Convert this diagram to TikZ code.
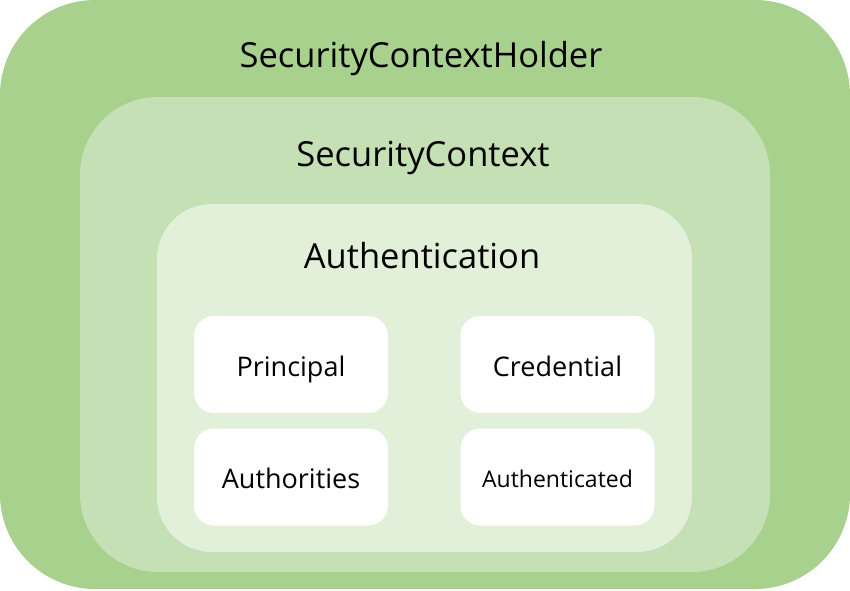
\documentclass[tikz,border=0pt]{standalone}
\usepackage{fontspec}
\setmainfont{Open Sans}
\usepackage{tikz}
\definecolor{holdergreen}{HTML}{A9D18E}
\definecolor{contextgreen}{HTML}{C5E0B4}
\definecolor{authgreen}{HTML}{E2F0D9}
\usetikzlibrary{positioning}
\newcommand{\fsz}[1]{\fontsize{#1}{#1}\selectfont}

\begin{document}
\begin{tikzpicture}[x=1pt, y=-1pt,
			layer/.style={rounded corners=#1, inner sep=0pt, outer sep=0pt},
			field/.style={fill=white, rounded corners=20pt, minimum width=194pt, minimum height=97pt, inner sep=0pt,
				text height=23pt, text depth=0pt, font=\fsz{27}}]
			\useasboundingbox (0,0) rectangle (850,590);
			% Ebenen zeichnen
			\fill[holdergreen, layer=95pt] (0,0) rectangle (850,589);
			\fill[contextgreen, layer=78pt] (80,97) rectangle (770,572);
			\fill[authgreen, layer=55pt] (157,204) rectangle (692,552);
			% Titel
			\node[anchor=base, font=\fsz{34.5}] (holder) at (421,67) {SecurityContextHolder};
			\node[anchor=base, font=\fsz{34.5}] (context) at (423,166) {SecurityContext};
			\node[anchor=base, font=\fsz{34.5}] (auth) at (422,268) {Authentication};
			% Felder
			\node[field] (principal) at (291,364.5) {Principal};
			\node[field] (credential) at (557.5,364.5) {Credential};
			\node[field] (authorities) at (291,477) {Authorities};
			\node[field, text height=20pt, font=\fsz{23}] (authenticated) at (557.5,477) {Authenticated};
		\end{tikzpicture}
\end{document}
